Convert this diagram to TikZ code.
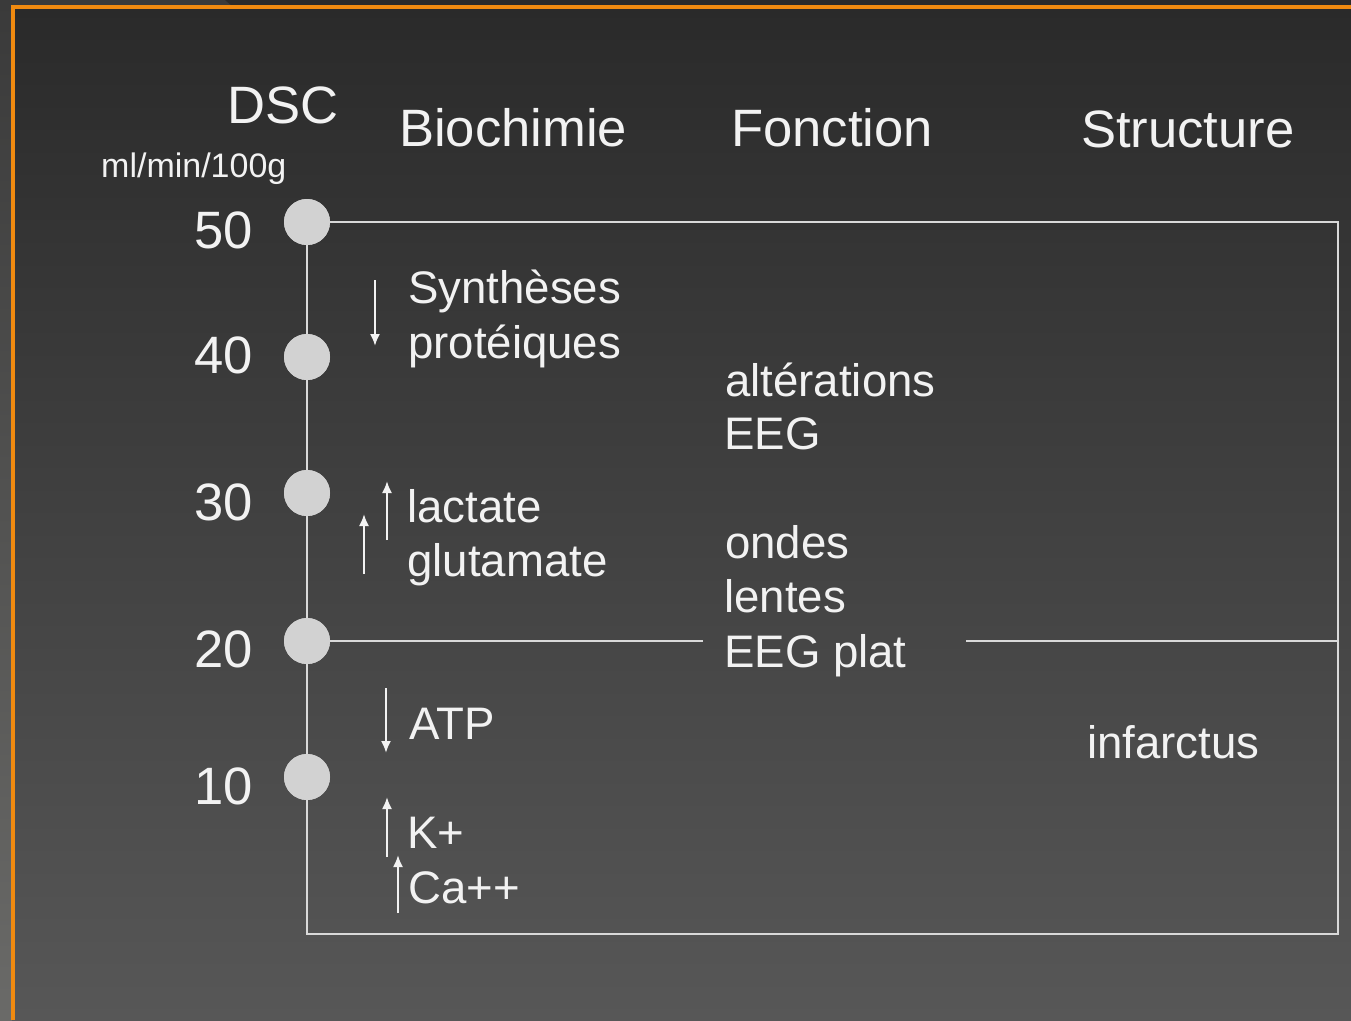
\documentclass[tikz,border=0pt]{standalone}
\usepackage{fontspec}
\setmainfont{Liberation Sans}
\usetikzlibrary{arrows.meta}
\definecolor{bgtop}{HTML}{2A2A2A}
\definecolor{bgbot}{HTML}{575757}
\definecolor{outtop}{HTML}{3A3A3A}
\definecolor{outbot}{HTML}{6A6A68}
\definecolor{linec}{HTML}{D9D9D9}
\definecolor{txt}{HTML}{F2F2F2}
\definecolor{orng}{HTML}{F08A10}
\definecolor{dotc}{HTML}{D2D2D2}
\begin{document}
\begin{tikzpicture}[x=1pt,y=-1pt,
  head/.style={anchor=base west,text=txt,font=\fontsize{52.6}{52.6}\selectfont,inner sep=0pt},
  num/.style={anchor=base east,text=txt,font=\fontsize{52.6}{52.6}\selectfont,inner sep=0pt},
  unit/.style={anchor=base west,text=txt,font=\fontsize{34}{34}\selectfont,inner sep=0pt},
  lbl/.style={anchor=base west,text=txt,font=\fontsize{45.6}{45.6}\selectfont,inner sep=0pt},
  dot/.style={circle,fill=dotc,minimum size=46pt,inner sep=0pt},
  frame/.style={draw=linec,line width=2pt},
  arr/.style={draw=txt,line width=2pt,-{Latex[length=12pt,width=10pt]}}]
\useasboundingbox (0,0) rectangle (1351,1020);
% outer background
\fill[top color=outtop,bottom color=outbot] (0,0) rectangle (1351,1020);
\fill[color=bgtop] (225,0) -- (1351,0) -- (1351,6) -- (232,6) -- cycle;
% inner background
\fill[top color=bgtop,bottom color=bgbot] (12,6) rectangle (1351,1020);
\draw[orng,line width=3.5pt] (13,1020) -- (13,7) -- (1351,7);

% coordinates of frame
\coordinate (tr) at (1338,222);
\coordinate (br) at (1338,934);
\coordinate (bl) at (307,934);
\coordinate (mr) at (1338,641);
\coordinate (ml) at (703,641);
\coordinate (mr2) at (966,641);

% dots
\node[dot] (c50) at (307,222) {};
\node[dot] (c40) at (307,357) {};
\node[dot] (c30) at (307,493) {};
\node[dot] (c20) at (307,641) {};
\node[dot] (c10) at (307,777) {};

\draw[frame] (c50.center) -- (tr) -- (br) -- (bl) -- (c50.center);
\draw[frame] (c20.center) -- (ml);
\draw[frame] (mr2) -- (mr);
\foreach \n in {c50,c40,c30,c20,c10} \fill[dotc] (\n) circle (23);

% headings
\node[head] (dsc) at (227,123) {DSC};
\node[unit] (unit) at (101,177) {ml/min/100g};
\node[head] (bio) at (399,146) {Biochimie};
\node[head] (fon) at (731,146) {Fonction};
\node[head] (str) at (1081,147) {Structure};

% numbers
\node[num] (n50) at (253,248) {50};
\node[num] (n40) at (253,373) {40};
\node[num] (n30) at (253,520) {30};
\node[num] (n20) at (253,667) {20};
\node[num] (n10) at (253,804) {10};

% biochimie
\node[lbl] (syn) at (408,303) {Synthèses};
\node[lbl] (prot) at (408,358) {protéiques};
\node[lbl] (lac) at (407,522) {lactate};
\node[lbl] (glu) at (407,576) {glutamate};
\node[lbl] (atp) at (409,739) {ATP};
\node[lbl] (kp) at (407,848) {K+};
\node[lbl] (ca) at (408,903) {Ca++};

% fonction
\node[lbl] (alt) at (725,396) {altérations};
\node[lbl] (eeg) at (724,449) {EEG};
\node[lbl] (ond) at (725,558) {ondes};
\node[lbl] (len) at (724,612) {lentes};
\node[lbl] (plat) at (724,667) {EEG plat};

% structure
\node[lbl] (inf) at (1087,758) {infarctus};

% arrows
\coordinate (a1s) at (375,280); \coordinate (a1e) at (375,346);
\coordinate (a2s) at (387,540); \coordinate (a2e) at (387,481);
\coordinate (a3s) at (364,574); \coordinate (a3e) at (364,514);
\coordinate (a4s) at (386,688); \coordinate (a4e) at (386,753);
\coordinate (a5s) at (387,857); \coordinate (a5e) at (387,797);
\coordinate (a6s) at (398,913); \coordinate (a6e) at (398,855);
\draw[arr] (a1s) -- (a1e);
\draw[arr] (a2s) -- (a2e);
\draw[arr] (a3s) -- (a3e);
\draw[arr] (a4s) -- (a4e);
\draw[arr] (a5s) -- (a5e);
\draw[arr] (a6s) -- (a6e);
\end{tikzpicture}
\end{document}
